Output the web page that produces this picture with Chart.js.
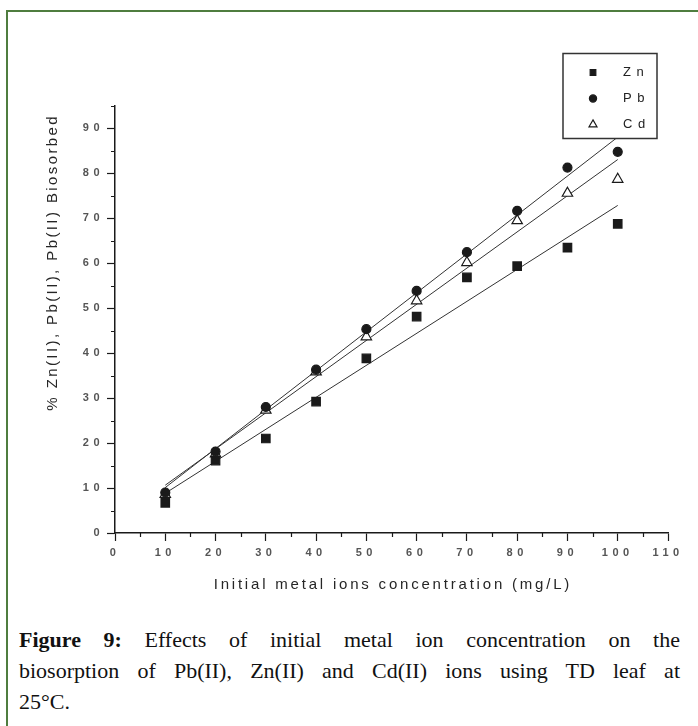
<!DOCTYPE html>
<html>
<head>
<meta charset="utf-8">
<script src="https://cdn.jsdelivr.net/npm/chart.js@4.4.0/dist/chart.umd.min.js"></script>
<style>
  html, body { margin: 0; padding: 0; background: #fff; }
  body { width: 698px; height: 726px; position: relative; overflow: hidden; }
  .frame {
    position: absolute; left: 6px; top: 10px; width: 800px; height: 800px;
    border-left: 2px solid #4f7d3f; border-top: 2px solid #4f7d3f;
  }
  .plot { position: absolute; left: 0; top: 0; width: 698px; height: 610px; }
  .caption {
    position: absolute; left: 19px; top: 624px; width: 661px;
    font-family: "Liberation Serif", serif; font-size: 22px; line-height: 31px; color: #111;
  }
  .caption div { text-align: justify; text-align-last: justify; }
  .caption div.last { text-align-last: left; }
</style>
</head>
<body>
<div class="frame"></div>
<div class="plot"><canvas id="myChart" width="698" height="610"></canvas></div>
<div class="caption">
  <div><b>Figure 9:</b> Effects of initial metal ion concentration on the</div>
  <div>biosorption of Pb(II), Zn(II) and Cd(II) ions using TD leaf at</div>
  <div class="last">25°C.</div>
</div>
<script>
// initial concentration (mg/L) and % removal for each metal
const concentration = [10, 20, 30, 40, 50, 60, 70, 80, 90, 100];
const znRemoval = [6.7, 16.1, 21.0, 29.2, 38.8, 48.1, 56.8, 59.3, 63.4, 68.7];
const pbRemoval = [9.0, 18.1, 28.0, 36.3, 45.3, 53.8, 62.4, 71.6, 81.2, 84.7];
const cdRemoval = [8.6, 17.6, 27.3, 35.8, 43.6, 51.6, 60.1, 69.4, 75.5, 78.6];
const seriesNames = ['Zn', 'Pb', 'Cd'];

const xTitle = 'Initial metal ions concentration (mg/L)';
const yTitle = '% Zn(II), Pb(II), Pb(II) Biosorbed';

const ink = '#1a1a1a';

function toPoints(ys) {
  return concentration.map((x, i) => ({ x: x, y: ys[i] }));
}

// least squares straight line through a series, drawn over the data range
function fitLine(ys) {
  const n = ys.length;
  const mx = concentration.reduce((a, b) => a + b, 0) / n;
  const my = ys.reduce((a, b) => a + b, 0) / n;
  let sxy = 0, sxx = 0;
  concentration.forEach((x, i) => { sxy += (x - mx) * (ys[i] - my); sxx += (x - mx) * (x - mx); });
  const k = sxy / sxx;
  const x0 = concentration[0], x1 = concentration[n - 1];
  return [{ x: x0, y: my + k * (x0 - mx) }, { x: x1, y: my + k * (x1 - mx) }];
}

const markers = [
  { pointStyle: 'rect', radius: 6, fill: ink, legendRadius: 4 },
  { pointStyle: 'circle', radius: 4.5, fill: ink, legendRadius: 3.6 },
  { pointStyle: 'triangle', radius: 6, fill: '#fff', legendRadius: 4.6 }
];

const values = [znRemoval, pbRemoval, cdRemoval];

const datasets = [];
values.forEach((ys, i) => {
  datasets.push({
    label: seriesNames[i],
    data: toPoints(ys),
    pointStyle: markers[i].pointStyle,
    pointRadius: markers[i].radius,
    pointBackgroundColor: markers[i].fill,
    pointBorderColor: ink,
    pointBorderWidth: 1.2,
    order: 1
  });
  datasets.push({
    label: seriesNames[i] + ' fit',
    data: fitLine(ys),
    showLine: true,
    borderColor: '#333',
    borderWidth: 1,
    pointRadius: 0,
    order: 2
  });
});

const minorTick = v => v % 10 !== 0;

const extras = {
  id: 'extras',
  beforeDraw(chart) {
    // spaced out tick digits
    chart.ctx.letterSpacing = '4.5px';
  },
  afterDraw(chart) {
    const ctx = chart.ctx;
    const xs = chart.scales.x, ys = chart.scales.y;
    const area = chart.chartArea;
    ctx.save();
    ctx.letterSpacing = '0px';

    // minor tick marks
    ctx.strokeStyle = ink;
    ctx.lineWidth = 1.2;
    ctx.beginPath();
    xs.ticks.forEach(t => {
      if (!minorTick(t.value)) return;
      const px = Math.round(xs.getPixelForValue(t.value)) + 0.5;
      ctx.moveTo(px, area.bottom);
      ctx.lineTo(px, area.bottom + 4);
    });
    ys.ticks.forEach(t => {
      if (!minorTick(t.value)) return;
      const py = Math.round(ys.getPixelForValue(t.value)) + 0.5;
      ctx.moveTo(area.left, py);
      ctx.lineTo(area.left - 4, py);
    });
    ctx.stroke();

    // axis titles
    ctx.fillStyle = '#262626';
    ctx.font = '15px "Liberation Sans", Arial, sans-serif';
    ctx.textAlign = 'center';
    ctx.textBaseline = 'middle';
    ctx.letterSpacing = '2.8px';
    ctx.fillText(xTitle, (area.left + area.right) / 2 + 1.4, area.bottom + 52);

    ctx.save();
    ctx.translate(area.left - 62, area.top + 158);
    ctx.rotate(-Math.PI / 2);
    ctx.letterSpacing = '2.4px';
    ctx.fillText(yTitle, 1.2, 0);
    ctx.restore();

    // legend box in the top right corner
    const bx = area.right - 105, by = area.top - 52, bw = 94, bh = 85;
    ctx.fillStyle = '#fff';
    ctx.fillRect(bx, by, bw, bh);
    ctx.strokeStyle = '#333';
    ctx.lineWidth = 1.5;
    ctx.strokeRect(bx, by, bw, bh);

    ctx.font = '13px "Liberation Sans", Arial, sans-serif';
    ctx.textAlign = 'left';
    ctx.letterSpacing = '5.5px';
    seriesNames.forEach((name, i) => {
      const ly = by + 19 + i * 26;
      ctx.fillStyle = markers[i].fill;
      ctx.strokeStyle = ink;
      ctx.lineWidth = 1.2;
      Chart.helpers.drawPoint(ctx, {
        pointStyle: markers[i].pointStyle,
        radius: markers[i].legendRadius,
        rotation: 0,
        borderWidth: 1.2
      }, bx + 30, ly);
      ctx.fillStyle = '#222';
      ctx.fillText(name, bx + 60, ly);
    });
    ctx.restore();
  }
};

const tickFont = { family: '"Liberation Sans", Arial, sans-serif', size: 11, weight: 'bold' };

const ctx = document.getElementById('myChart').getContext('2d');
const myChart = new Chart(ctx, {
  type: 'scatter',
  data: { datasets: datasets },
  options: {
    responsive: false,
    animation: false,
    devicePixelRatio: 1,
    layout: { padding: { left: 65, right: 30, top: 105.5, bottom: 47 } },
    plugins: {
      legend: { display: false },
      tooltip: { enabled: false }
    },
    scales: {
      x: {
        type: 'linear',
        min: 0,
        max: 110,
        afterFit: s => { s.height = 30; },
        border: { color: ink, width: 1.5 },
        grid: {
          drawOnChartArea: false,
          tickLength: 8,
          tickWidth: 1.2,
          tickColor: c => (c.tick && !minorTick(c.tick.value)) ? ink : 'rgba(0,0,0,0)'
        },
        ticks: {
          stepSize: 5,
          autoSkip: false,
          maxRotation: 0,
          padding: 5,
          color: '#555',
          font: tickFont,
          callback: v => minorTick(v) ? '' : v
        }
      },
      y: {
        min: 0,
        max: 95,
        afterFit: s => { s.width = 50; },
        border: { color: ink, width: 1.5 },
        grid: {
          drawOnChartArea: false,
          tickLength: 8,
          tickWidth: 1.2,
          tickColor: c => (c.tick && !minorTick(c.tick.value)) ? ink : 'rgba(0,0,0,0)'
        },
        ticks: {
          stepSize: 5,
          autoSkip: false,
          padding: 3,
          color: '#555',
          font: tickFont,
          callback: v => minorTick(v) ? '' : v
        }
      }
    }
  },
  plugins: [extras]
});
</script>
</body>
</html>
